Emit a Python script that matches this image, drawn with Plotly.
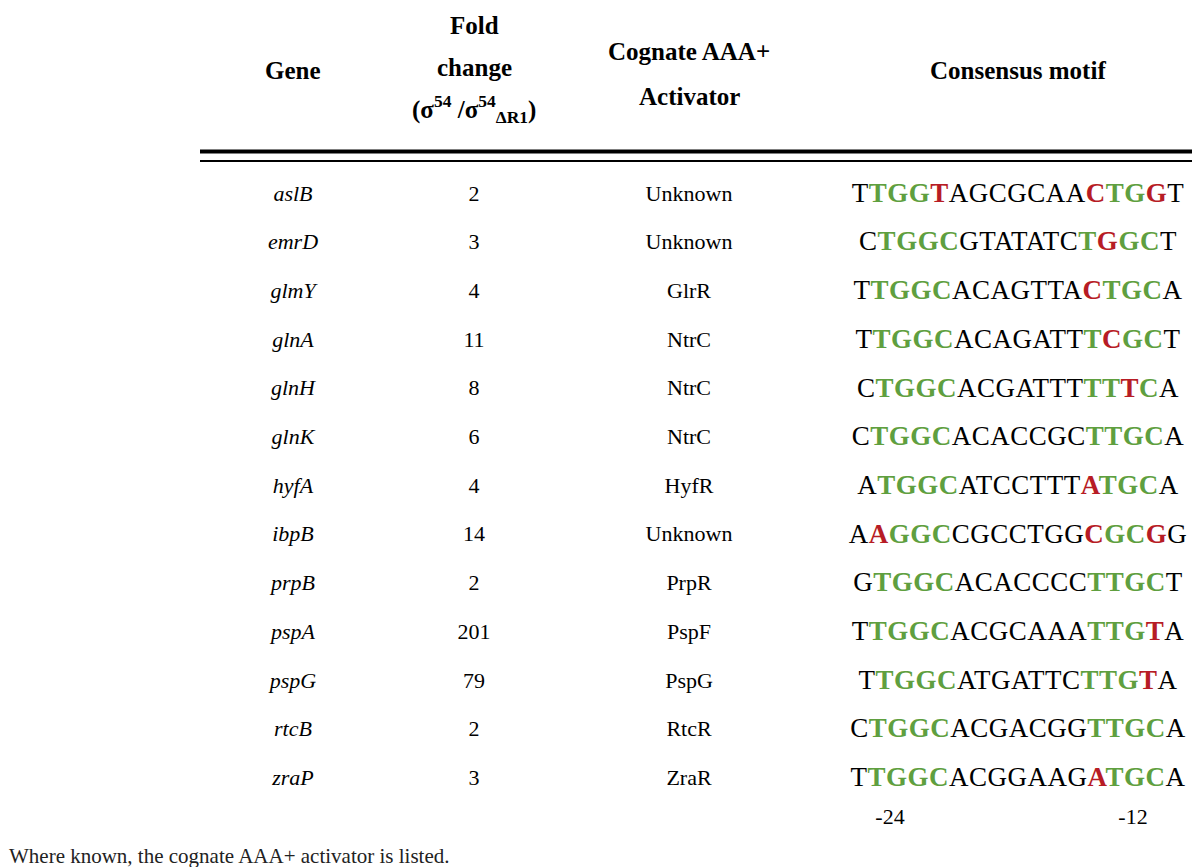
import plotly.graph_objects as go

# ---------------- data ----------------
genes = ["aslB", "emrD", "glmY", "glnA", "glnH", "glnK", "hyfA",
         "ibpB", "prpB", "pspA", "pspG", "rtcB", "zraP"]
fold_change = [2, 3, 4, 11, 8, 6, 4, 14, 2, 201, 79, 2, 3]
activators = ["Unknown", "Unknown", "GlrR", "NtrC", "NtrC", "NtrC", "HyfR",
              "Unknown", "PrpR", "PspF", "PspG", "RtcR", "ZraR"]
motifs = ["TTGGTAGCGCAACTGGT", "CTGGCGTATATCTGGCT", "TTGGCACAGTTACTGCA",
          "TTGGCACAGATTTCGCT", "CTGGCACGATTTTTTCA", "CTGGCACACCGCTTGCA",
          "ATGGCATCCTTTATGCA", "AAGGCCGCCTGGCGCGG", "GTGGCACACCCCTTGCT",
          "TTGGCACGCAAATTGTA", "TTGGCATGATTCTTGTA", "CTGGCACGACGGTTGCA",
          "TTGGCACGGAAGATGCA"]
# per-letter class: '.' outside core, 'c' matches consensus, 'm' mismatch
motif_match = [".cccm.......mccm.", ".cccc.......cmcc.", ".cccc.......mccc.",
               ".cccc.......cmcc.", ".cccc.......ccmc.", ".cccc.......cccc.",
               ".cccc.......mccc.", ".mccc.......mccm.", ".cccc.......cccc.",
               ".cccc.......cccm.", ".cccc.......cccm.", ".cccc.......cccc.",
               ".cccc.......mccc."]
position_labels = ["-24", "-12"]
footnote = "Where known, the cognate AAA+ activator is listed."

# ---------------- styling ----------------
FONT = "Liberation Serif"
GREEN = "#5f9f3f"
RED = "#b71c25"
W, H = 1200, 867
ROW0, ROWSTEP = 187, 48.7   # pixel centre of first row, row pitch

col_x = {"gene": 285, "fold": 466, "act": 681, "motif": 1010}


def colour_motif(seq, cls):
    out = []
    for ch, c in zip(seq, cls):
        if c == "c":
            out.append(f"<span style='color:{GREEN}'><b>{ch}</b></span>")
        elif c == "m":
            out.append(f"<span style='color:{RED}'><b>{ch}</b></span>")
        else:
            out.append(ch)
    return "<span style='letter-spacing:0.5px'>" + "".join(out) + "</span>"


rows = list(range(len(genes)))
y_top = -ROW0 / ROWSTEP
y_bot = (H - ROW0) / ROWSTEP

fig = go.Figure()
body = dict(family=FONT, size=22, color="black")
fig.add_trace(go.Scatter(
    x=[col_x["gene"]] * len(genes), y=rows, mode="text",
    text=[f"<i>{g}</i>" for g in genes], textfont=body, hoverinfo="skip"))
fig.add_trace(go.Scatter(
    x=[col_x["fold"]] * len(genes), y=rows, mode="text",
    text=[str(v) for v in fold_change], textfont=body, hoverinfo="skip"))
fig.add_trace(go.Scatter(
    x=[col_x["act"]] * len(genes), y=rows, mode="text",
    text=activators, textfont=body, hoverinfo="skip"))
fig.add_trace(go.Scatter(
    x=[col_x["motif"]] * len(genes), y=rows, mode="text",
    text=[colour_motif(s, c) for s, c in zip(motifs, motif_match)],
    textfont=dict(family=FONT, size=27, color="black"), hoverinfo="skip"))
# position labels under the motif
lab_row = len(genes) - 0.2
fig.add_trace(go.Scatter(
    x=[882, 1125], y=[lab_row, lab_row], mode="text",
    text=position_labels, textfont=body, hoverinfo="skip"))

# ---------------- header ----------------
hdr_font = dict(family=FONT, size=25, color="black")


def hdr(text, x, ypx):
    fig.add_annotation(text=f"<b>{text}</b>", x=x, y=1 - ypx / H,
                       xref="x", yref="paper", showarrow=False,
                       xanchor="center", yanchor="middle", font=hdr_font)


hdr("Gene", col_x["gene"], 62)
hdr("Fold", col_x["fold"], 18)
hdr("change", col_x["fold"], 60)
hdr("(σ<sup>54</sup> /σ<sup>54</sup><sub>ΔR1</sub>)", col_x["fold"], 101)
hdr("Cognate AAA+", col_x["act"], 44)
hdr("Activator", col_x["act"], 88)
hdr("Consensus motif", col_x["motif"], 62)

# double rule under header
fig.add_shape(type="line", xref="x", yref="paper", x0=192, x1=1196,
              y0=1 - 143.5 / H, y1=1 - 143.5 / H,
              line=dict(color="black", width=4))
fig.add_shape(type="line", xref="x", yref="paper", x0=192, x1=1196,
              y0=1 - 153 / H, y1=1 - 153 / H,
              line=dict(color="black", width=2))

fig.add_annotation(text=footnote, x=0, y=1 - 848 / H, xref="paper", yref="paper",
                   xanchor="left", yanchor="middle", showarrow=False,
                   borderpad=0,
                   font=dict(family=FONT, size=21, color="#222222"))

fig.update_layout(
    width=W, height=H, margin=dict(l=0, r=0, t=0, b=0),
    paper_bgcolor="white", plot_bgcolor="white", showlegend=False,
    xaxis=dict(range=[0, W], visible=False, fixedrange=True),
    yaxis=dict(range=[y_bot, y_top], visible=False, fixedrange=True),
)
fig.write_html("out.html")
